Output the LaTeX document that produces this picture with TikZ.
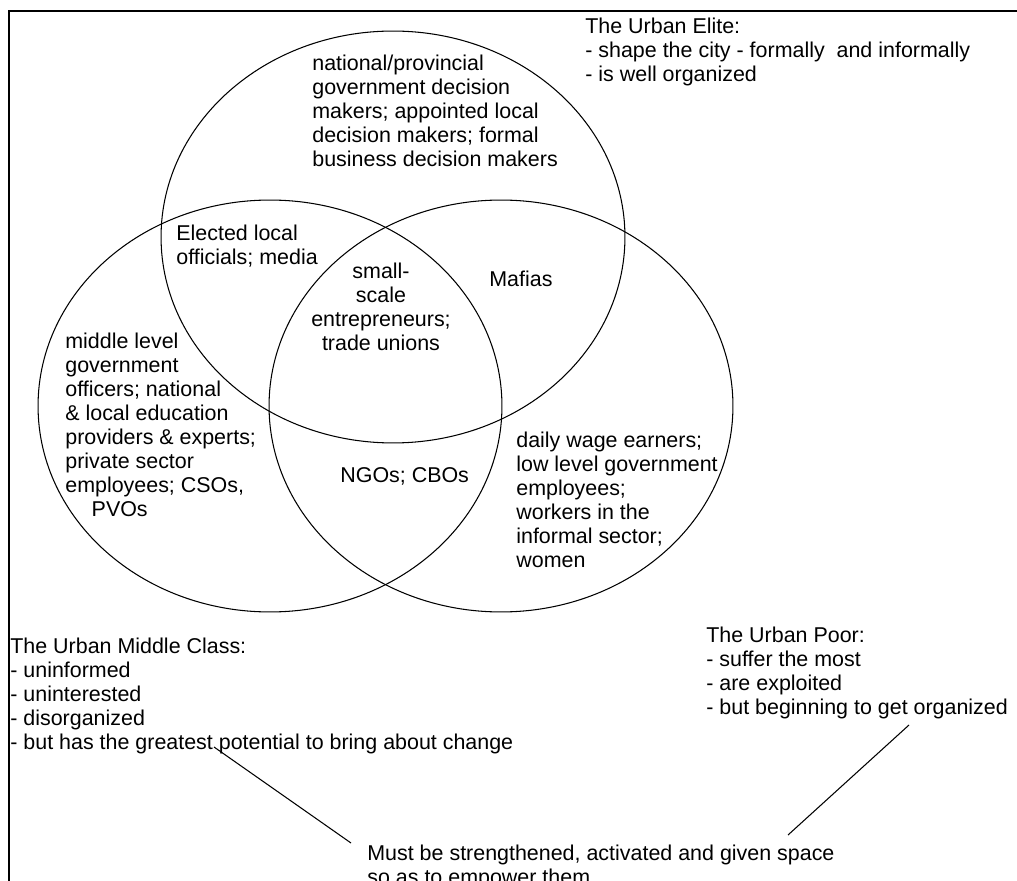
\documentclass[tikz,border=0pt]{standalone}
\usepackage{fontspec}
\setmainfont{Liberation Sans}
\usepackage{tikz}

\tikzset{
  txt/.style={anchor=north west, inner sep=0pt, align=left,
    font=\fontsize{12.2}{13.66}\selectfont},
  venn/.style={line width=0.6pt},
}

\begin{document}
\begin{tikzpicture}[%
      x=0.02cm, y=-0.02cm,
      ]
      \clip (0,0) rectangle (1017,881);
      \fill[white] (0,0) rectangle (1017,881);
      \draw [line width=0.9pt] (1017,11) -- (9,11) -- (9,881);

      \draw[venn] (393,237) ellipse [x radius=4.64cm, y radius=4.12cm];
      \draw[venn] (270,406) ellipse [x radius=4.64cm, y radius=4.12cm];
      \draw[venn] (501,406) ellipse [x radius=4.64cm, y radius=4.12cm];

      \node[txt] (elite) at (585,18) {The Urban Elite:\\- shape the city - formally\ \ and informally\\- is well organized};
      \node[txt] (decision) at (312,55) {national/provincial\\government decision\\makers; appointed local\\decision makers; formal\\business decision makers};
      \node[txt] (elected) at (176,225) {Elected local\\officials; media};
      \node[txt, anchor=north, align=center] (smallscale) at (381,263) {small-\\scale\\entrepreneurs;\\trade unions};
      \node[txt] (mafias) at (489,271) {Mafias};
      \node[txt] (officers) at (65,333) {middle level\\government\\officers; national\\\& local education\\providers \& experts;\\private sector\\employees; CSOs,\\\hspace*{15pt}PVOs};
      \node[txt] (ngos) at (340,467) {NGOs; CBOs};
      \node[txt] (workers) at (516,432) {daily wage earners;\\low level government\\employees;\\workers in the\\informal sector;\\women};

      \node[txt] (middleclass) at (10,638) {The Urban Middle Class:\\- uninformed\\- uninterested\\- disorganized\\- but has the greatest potential to bring about change};
      \node[txt] (poor) at (706,627) {The Urban Poor:\\- suffer the most\\- are exploited\\- but beginning to get organized};
      \node[txt] (must) at (367,845) {Must be strengthened, activated and given space\\so as to empower them};

      \coordinate (mcfoot) at (214,747);
      \coordinate (mustleft) at (351,843);
      \coordinate (poorfoot) at (909,725);
      \coordinate (mustright) at (788,835);
      \draw[line width=0.6pt] (mcfoot) -- (mustleft);
      \draw[line width=0.6pt] (poorfoot) -- (mustright);
\end{tikzpicture}
\end{document}
